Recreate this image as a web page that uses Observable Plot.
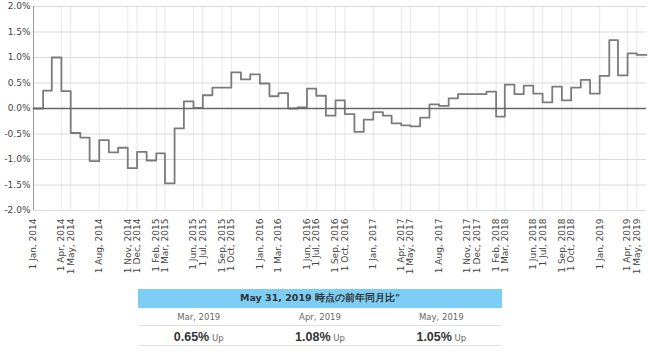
<!DOCTYPE html>
<html><head><meta charset="utf-8">
<script src="https://cdn.jsdelivr.net/npm/d3@7"></script>
<script src="https://cdn.jsdelivr.net/npm/@observablehq/plot@0.6"></script>
<style>
html,body{margin:0;padding:0;background:#fff;}
body{width:650px;height:353px;position:relative;overflow:hidden;font-family:"DejaVu Sans",sans-serif;}
#chart{position:absolute;left:0;top:0;}
#summary{position:absolute;left:138px;top:289px;width:364px;border-collapse:collapse;table-layout:fixed;}
#summary th{background:#7dcef5;color:#333;font:bold 9.5px "DejaVu Sans",sans-serif;height:19px;padding:0;text-align:center;}
#summary td{padding:0;text-align:center;border-bottom:1px solid #e2e2e2;}
#summary tr.m td{height:17px;color:#666;font:8.5px "DejaVu Sans",sans-serif;}
#summary tr.v td{height:18px;}
#summary .num{font:bold 12.5px "Liberation Sans",Arial,sans-serif;color:#333;}
#summary .dir{font:8.5px "DejaVu Sans",sans-serif;color:#666;}
</style></head><body>
<div id="chart"></div>
<table id="summary"><thead><tr><th colspan="3" id="title"></th></tr></thead>
<tbody><tr class="m" id="mrow"></tr><tr class="v" id="vrow"></tr></tbody></table>
<script>
// Monthly year-over-year change (%), Jan 2014 .. May 2019
const firstMonth = "2014-01-01";
const values2014 = [0.00, 0.35, 1.00, 0.34, -0.48, -0.57, -1.03, -0.62, -0.86, -0.77, -1.17, -0.85];
const values2015 = [-1.02, -0.88, -1.47, -0.39, 0.14, 0.01, 0.26, 0.41, 0.41, 0.71, 0.57, 0.67];
const values2016 = [0.49, 0.24, 0.30, 0.00, 0.02, 0.39, 0.25, -0.14, 0.16, -0.11, -0.46, -0.22];
const values2017 = [-0.07, -0.14, -0.29, -0.33, -0.35, -0.18, 0.08, 0.05, 0.20, 0.28, 0.28, 0.28];
const values2018 = [0.33, -0.16, 0.47, 0.28, 0.45, 0.29, 0.12, 0.43, 0.16, 0.41, 0.56, 0.29];
const values2019 = [0.64, 1.34, 0.65, 1.08, 1.05];
const domainEnd = "2019-06-01";

const xTickDates = ["2014-01-01","2014-04-01","2014-05-01","2014-08-01","2014-11-01","2014-12-01",
  "2015-02-01","2015-03-01","2015-06-01","2015-07-01","2015-09-01","2015-10-01",
  "2016-01-01","2016-03-01","2016-06-01","2016-07-01","2016-09-01","2016-10-01",
  "2017-01-01","2017-04-01","2017-05-01","2017-08-01","2017-11-01","2017-12-01",
  "2018-02-01","2018-03-01","2018-06-01","2018-07-01","2018-09-01","2018-10-01",
  "2019-01-01","2019-04-01","2019-05-01"];
const yTicks = [-2, -1.5, -1, -0.5, 0, 0.5, 1, 1.5, 2];

const summaryTitle = "May 31, 2019 時点の前年同月比\"";
const summaryMonths = ["Mar, 2019", "Apr, 2019", "May, 2019"];
const summaryValues = ["0.65%", "1.08%", "1.05%"];
const summaryDirs = ["Up", "Up", "Up"];

const allValues = [...values2014, ...values2015, ...values2016, ...values2017, ...values2018, ...values2019];
const start = new Date(firstMonth + "T00:00:00Z");
const end = new Date(domainEnd + "T00:00:00Z");
const data = allValues.map((v, i) => ({date: d3.utcMonth.offset(start, i), value: v}));
data.push({date: end, value: allValues[allValues.length - 1]});
const ticks = xTickDates.map(s => new Date(s + "T00:00:00Z"));

const chart = Plot.plot({
  width: 650, height: 280,
  marginLeft: 33, marginRight: 4, marginTop: 6, marginBottom: 70,
  x: {type: "utc", domain: [start, end]},
  y: {domain: [-2, 2]},
  style: {fontFamily: "DejaVu Sans, sans-serif", fontSize: "9px", color: "#444", background: "#fff", overflow: "visible"},
  marks: [
    Plot.gridX(ticks, {stroke: "#e8e8e8", strokeOpacity: 1}),
    Plot.gridY(yTicks, {stroke: "#dadada", strokeOpacity: 1}),
    Plot.axisY(yTicks, {tickSize: 0, tickPadding: 3, tickFormat: d => d.toFixed(1) + "%", label: null, fill: "#444"}),
    Plot.axisX(ticks, {tickSize: 0, tickPadding: 8, tickRotate: -90, tickFormat: d3.utcFormat("%-d %b, %Y"), label: null, fill: "#444"}),
    Plot.ruleX([start], {stroke: "#999", strokeWidth: 1}),
    Plot.line(data, {x: "date", y: "value", curve: "step-after", stroke: "#7b7b7b", strokeWidth: 1.8}),
    Plot.ruleY([0], {stroke: "#666", strokeWidth: 1.6})
  ]
});
document.getElementById("chart").appendChild(chart);

document.getElementById("title").textContent = summaryTitle;
const mrow = document.getElementById("mrow");
const vrow = document.getElementById("vrow");
summaryMonths.forEach((m, i) => {
  const td = document.createElement("td"); td.textContent = m; mrow.appendChild(td);
  const tv = document.createElement("td");
  const n = document.createElement("span"); n.className = "num"; n.textContent = summaryValues[i];
  const d = document.createElement("span"); d.className = "dir"; d.textContent = " " + summaryDirs[i];
  tv.appendChild(n); tv.appendChild(d); vrow.appendChild(tv);
});
</script>
</body></html>
